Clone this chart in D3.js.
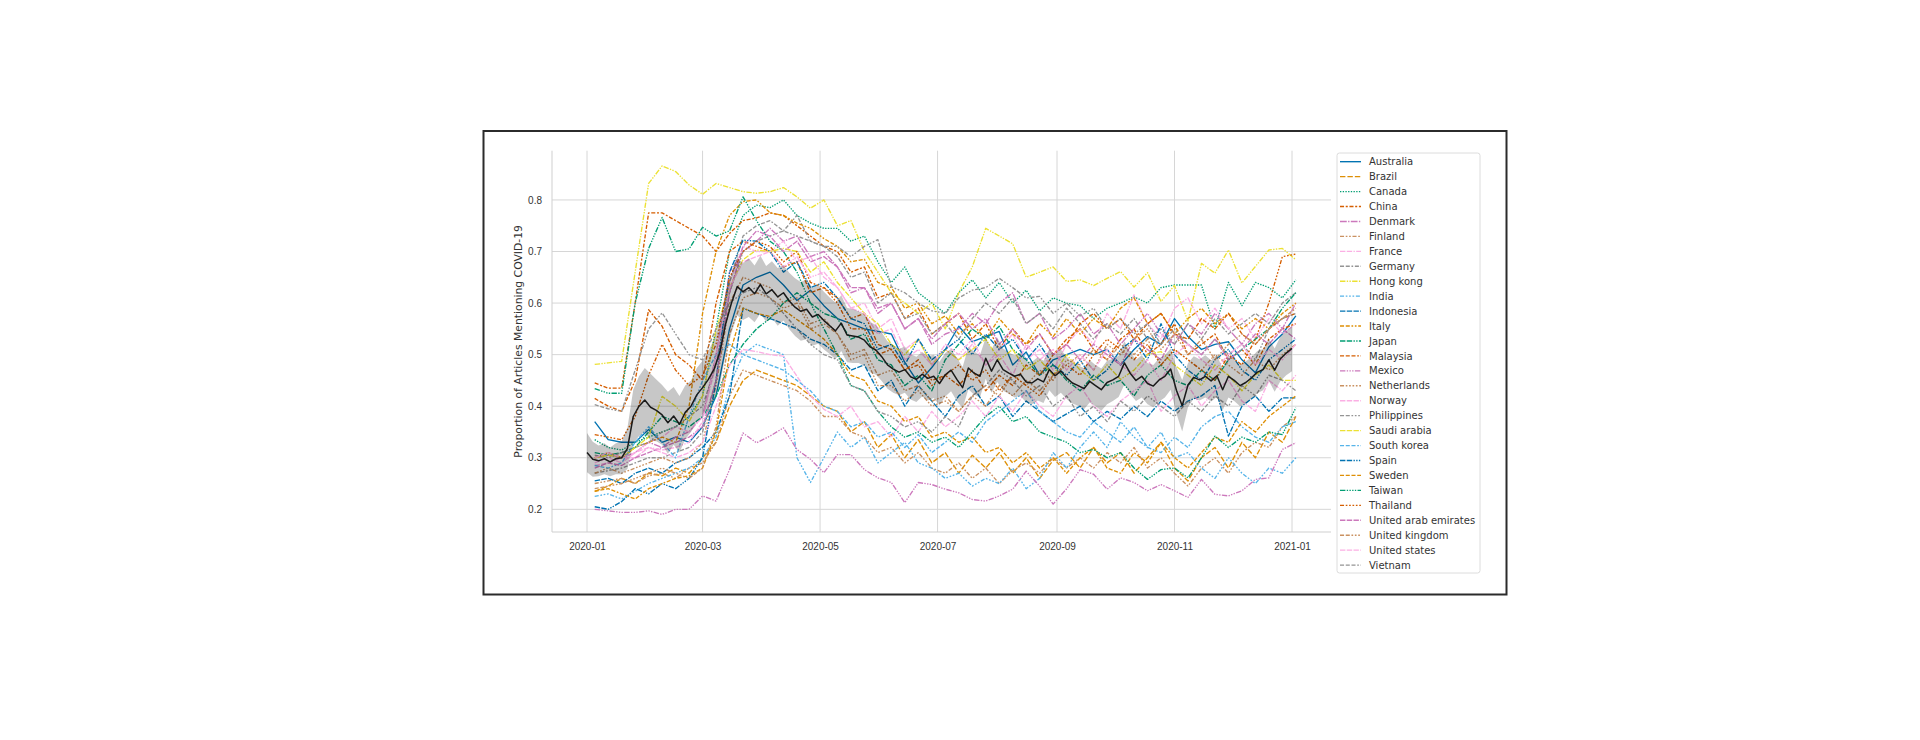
<!DOCTYPE html>
<html>
<head>
<meta charset="utf-8">
<style>
  body { margin: 0; background: #fff; }
  svg { display: block; font-family: 'DejaVu Sans', sans-serif; }
  .tick text { font-size: 10px; fill: #333; }
  .grid line { stroke: #d6d6d6; stroke-width: 1; }
  .legend text { font-size: 10px; fill: #333; }
</style>
</head>
<body>
<svg width="1920" height="740"></svg>
<script src="https://d3js.org/d3.v7.min.js"></script>
<script>
// ---- data ----
const countries = ["Australia", "Brazil", "Canada", "China", "Denmark", "Finland", "France",
  "Germany", "Hong kong", "India", "Indonesia", "Italy", "Japan", "Malaysia", "Mexico",
  "Netherlands", "Norway", "Philippines", "Saudi arabia", "South korea", "Spain", "Sweden",
  "Taiwan", "Thailand", "United arab emirates", "United kingdom", "United states", "Vietnam"];

// weekly values, one per Sunday from 2020-01-05 to 2021-01-03
const australia = [0.370,0.335,0.330,0.330,0.355,0.330,0.340,0.330,0.360,
  0.420,0.550,0.635,0.650,0.660,0.635,0.605,0.625,0.595,
  0.570,0.560,0.550,0.545,0.540,0.485,0.445,0.475,0.510,
  0.555,0.525,0.535,0.545,0.480,0.505,0.460,0.490,0.500,
  0.510,0.500,0.510,0.480,0.510,0.535,0.520,0.570,0.535,
  0.510,0.520,0.525,0.490,0.465,0.515,0.540,0.575];
const brazil = [0.235,0.245,0.260,0.250,0.270,0.265,0.280,0.270,0.300,
  0.330,0.400,0.450,0.470,0.460,0.450,0.440,0.420,0.400,
  0.390,0.350,0.370,0.320,0.345,0.300,0.335,0.290,0.310,
  0.270,0.305,0.280,0.310,0.270,0.300,0.260,0.295,0.310,
  0.280,0.320,0.290,0.310,0.270,0.300,0.330,0.280,0.255,
  0.300,0.320,0.280,0.330,0.300,0.350,0.330,0.380];
const canada = [0.335,0.320,0.315,0.330,0.340,0.350,0.360,0.380,0.420,
  0.550,0.700,0.770,0.790,0.785,0.800,0.770,0.755,0.745,
  0.745,0.720,0.730,0.680,0.640,0.670,0.620,0.600,0.580,
  0.620,0.645,0.610,0.640,0.600,0.625,0.585,0.610,0.600,
  0.595,0.570,0.590,0.600,0.612,0.600,0.630,0.635,0.635,
  0.635,0.550,0.640,0.595,0.640,0.630,0.610,0.645];
const china = [0.445,0.435,0.435,0.600,0.775,0.775,0.760,0.745,0.730,
  0.700,0.735,0.760,0.765,0.775,0.770,0.750,0.730,0.710,
  0.700,0.660,0.670,0.610,0.620,0.570,0.590,0.540,0.560,
  0.580,0.530,0.560,0.510,0.550,0.520,0.540,0.500,0.530,
  0.550,0.510,0.490,0.530,0.550,0.500,0.520,0.560,0.500,
  0.520,0.540,0.490,0.510,0.480,0.530,0.550,0.560];
const denmark = [0.300,0.305,0.300,0.310,0.330,0.320,0.340,0.350,0.380,
  0.500,0.660,0.700,0.720,0.745,0.720,0.730,0.690,0.700,
  0.670,0.620,0.630,0.580,0.600,0.550,0.570,0.520,0.540,
  0.550,0.580,0.560,0.600,0.620,0.560,0.580,0.530,0.550,
  0.580,0.540,0.560,0.520,0.550,0.580,0.540,0.520,0.560,
  0.540,0.580,0.550,0.520,0.560,0.580,0.550,0.600];
const finland = [0.250,0.255,0.260,0.250,0.265,0.270,0.260,0.280,0.290,
  0.330,0.420,0.470,0.460,0.450,0.440,0.430,0.410,0.380,
  0.380,0.350,0.340,0.310,0.320,0.290,0.310,0.280,0.270,
  0.290,0.260,0.280,0.250,0.275,0.290,0.270,0.300,0.280,
  0.300,0.280,0.310,0.290,0.320,0.280,0.300,0.270,0.245,
  0.280,0.300,0.270,0.310,0.330,0.320,0.360,0.380];
const france = [0.290,0.300,0.290,0.310,0.330,0.340,0.360,0.350,0.380,
  0.480,0.640,0.710,0.700,0.700,0.720,0.680,0.690,0.650,
  0.630,0.590,0.600,0.550,0.570,0.510,0.530,0.480,0.510,
  0.490,0.520,0.480,0.510,0.540,0.490,0.510,0.470,0.520,
  0.550,0.520,0.580,0.550,0.616,0.560,0.530,0.590,0.610,
  0.560,0.590,0.550,0.570,0.530,0.570,0.540,0.560];
const germany = [0.270,0.275,0.280,0.290,0.300,0.300,0.310,0.320,0.350,
  0.450,0.640,0.730,0.750,0.760,0.740,0.770,0.720,0.710,
  0.690,0.650,0.660,0.600,0.620,0.570,0.580,0.540,0.560,
  0.530,0.570,0.600,0.580,0.610,0.560,0.580,0.550,0.590,
  0.560,0.530,0.560,0.540,0.570,0.530,0.550,0.520,0.560,
  0.530,0.570,0.540,0.560,0.580,0.560,0.600,0.620];
const hongKong = [0.481,0.484,0.487,0.660,0.832,0.866,0.855,0.829,0.811,
  0.832,0.824,0.816,0.813,0.816,0.824,0.806,0.784,0.800,
  0.750,0.760,0.700,0.660,0.620,0.600,0.580,0.600,0.550,
  0.620,0.670,0.745,0.730,0.715,0.650,0.660,0.670,0.642,
  0.645,0.634,0.648,0.661,0.631,0.659,0.603,0.634,0.565,
  0.677,0.658,0.703,0.639,0.671,0.703,0.706,0.684];
const india = [0.225,0.230,0.220,0.235,0.250,0.260,0.270,0.280,0.300,
  0.340,0.440,0.500,0.520,0.510,0.500,0.300,0.252,0.300,
  0.350,0.320,0.340,0.290,0.310,0.330,0.290,0.280,0.260,
  0.270,0.245,0.260,0.250,0.280,0.240,0.260,0.310,0.280,
  0.320,0.350,0.320,0.370,0.340,0.320,0.350,0.300,0.310,
  0.280,0.260,0.300,0.270,0.250,0.280,0.270,0.300];
const indonesia = [0.255,0.260,0.250,0.270,0.280,0.270,0.290,0.300,0.320,
  0.350,0.420,0.590,0.580,0.570,0.560,0.550,0.530,0.520,
  0.500,0.470,0.480,0.430,0.450,0.400,0.440,0.410,0.380,
  0.420,0.440,0.400,0.420,0.380,0.410,0.390,0.370,0.385,
  0.400,0.370,0.390,0.375,0.400,0.380,0.410,0.390,0.410,
  0.420,0.440,0.342,0.400,0.420,0.390,0.416,0.416];
const italy = [0.300,0.310,0.300,0.320,0.330,0.340,0.330,0.400,0.580,
  0.700,0.770,0.797,0.800,0.775,0.770,0.755,0.745,0.725,
  0.710,0.680,0.685,0.640,0.630,0.590,0.600,0.560,0.575,
  0.540,0.560,0.530,0.570,0.540,0.520,0.560,0.535,0.570,
  0.540,0.570,0.550,0.590,0.610,0.560,0.580,0.540,0.570,
  0.590,0.560,0.580,0.550,0.570,0.550,0.580,0.600];
const japan = [0.310,0.305,0.310,0.320,0.350,0.380,0.370,0.360,0.380,
  0.420,0.480,0.520,0.550,0.570,0.600,0.620,0.600,0.580,
  0.570,0.530,0.540,0.490,0.480,0.440,0.460,0.430,0.490,
  0.520,0.550,0.530,0.555,0.510,0.490,0.460,0.480,0.450,
  0.430,0.460,0.440,0.450,0.420,0.460,0.480,0.450,0.440,
  0.470,0.450,0.490,0.510,0.530,0.550,0.590,0.620];
const malaysia = [0.415,0.400,0.390,0.450,0.587,0.555,0.500,0.480,0.450,
  0.600,0.700,0.720,0.710,0.700,0.670,0.680,0.620,0.630,
  0.610,0.570,0.580,0.520,0.510,0.470,0.490,0.450,0.460,
  0.440,0.470,0.430,0.460,0.440,0.480,0.460,0.500,0.520,
  0.560,0.580,0.550,0.570,0.530,0.560,0.580,0.540,0.530,
  0.570,0.550,0.580,0.540,0.520,0.550,0.570,0.580];
const mexico = [0.200,0.197,0.194,0.194,0.197,0.190,0.200,0.200,0.226,
  0.216,0.277,0.348,0.329,0.342,0.358,0.316,0.297,0.271,
  0.306,0.306,0.277,0.261,0.252,0.213,0.252,0.248,0.239,
  0.232,0.219,0.216,0.226,0.239,0.274,0.245,0.210,0.240,
  0.277,0.268,0.239,0.261,0.252,0.236,0.248,0.236,0.223,
  0.258,0.229,0.226,0.236,0.258,0.261,0.316,0.329];
const netherlands = [0.270,0.280,0.270,0.280,0.290,0.300,0.290,0.300,0.330,
  0.440,0.600,0.650,0.640,0.630,0.600,0.610,0.560,0.570,
  0.540,0.490,0.500,0.440,0.440,0.410,0.430,0.400,0.410,
  0.390,0.420,0.440,0.420,0.460,0.440,0.470,0.450,0.490,
  0.480,0.510,0.490,0.520,0.500,0.530,0.480,0.510,0.490,
  0.470,0.500,0.480,0.460,0.490,0.470,0.500,0.520];
const norway = [0.285,0.290,0.300,0.300,0.320,0.310,0.300,0.310,0.330,
  0.400,0.480,0.510,0.506,0.500,0.497,0.458,0.420,0.394,
  0.380,0.400,0.360,0.370,0.340,0.380,0.350,0.390,0.360,
  0.380,0.410,0.380,0.420,0.390,0.430,0.400,0.380,0.420,
  0.440,0.400,0.380,0.410,0.430,0.450,0.390,0.420,0.440,
  0.400,0.430,0.450,0.410,0.390,0.450,0.430,0.460];
const philippines = [0.305,0.300,0.310,0.320,0.330,0.350,0.360,0.380,0.400,
  0.480,0.620,0.700,0.720,0.730,0.740,0.730,0.720,0.710,
  0.710,0.690,0.710,0.723,0.632,0.620,0.600,0.585,0.580,
  0.610,0.625,0.630,0.648,0.630,0.610,0.613,0.580,0.600,
  0.575,0.590,0.550,0.570,0.540,0.560,0.520,0.550,0.520,
  0.500,0.530,0.500,0.520,0.490,0.550,0.570,0.580];
const saudiArabia = [0.300,0.305,0.300,0.320,0.340,0.419,0.400,0.370,0.420,
  0.548,0.630,0.684,0.703,0.700,0.706,0.700,0.660,0.680,
  0.640,0.610,0.580,0.560,0.520,0.500,0.530,0.480,0.510,
  0.490,0.510,0.530,0.490,0.510,0.470,0.490,0.460,0.500,
  0.470,0.450,0.480,0.452,0.470,0.500,0.506,0.480,0.460,
  0.440,0.480,0.460,0.430,0.460,0.480,0.450,0.450];
const southKorea = [0.285,0.280,0.290,0.330,0.360,0.330,0.300,0.380,0.450,
  0.500,0.520,0.500,0.490,0.480,0.470,0.450,0.430,0.400,
  0.390,0.360,0.370,0.340,0.350,0.320,0.345,0.310,0.330,
  0.350,0.330,0.370,0.390,0.410,0.430,0.390,0.370,0.350,
  0.340,0.370,0.350,0.330,0.360,0.320,0.310,0.340,0.320,
  0.360,0.380,0.390,0.360,0.340,0.330,0.360,0.370];
const spain = [0.205,0.200,0.215,0.240,0.230,0.250,0.240,0.260,0.300,
  0.450,0.660,0.722,0.720,0.700,0.660,0.680,0.630,0.640,
  0.610,0.570,0.560,0.510,0.520,0.480,0.530,0.490,0.510,
  0.530,0.500,0.540,0.510,0.530,0.490,0.520,0.480,0.460,
  0.490,0.450,0.470,0.510,0.530,0.490,0.560,0.500,0.470,
  0.450,0.490,0.510,0.470,0.450,0.490,0.510,0.530];
const sweden = [0.235,0.240,0.230,0.220,0.240,0.250,0.260,0.265,0.280,
  0.350,0.500,0.590,0.580,0.574,0.587,0.568,0.550,0.530,
  0.500,0.460,0.450,0.410,0.400,0.370,0.380,0.340,0.350,
  0.330,0.340,0.310,0.320,0.290,0.310,0.280,0.300,0.270,
  0.300,0.320,0.280,0.270,0.310,0.290,0.330,0.300,0.280,
  0.310,0.340,0.330,0.370,0.350,0.380,0.400,0.420];
const taiwan = [0.434,0.425,0.425,0.600,0.706,0.766,0.700,0.705,0.747,
  0.730,0.740,0.806,0.760,0.720,0.700,0.660,0.600,0.550,
  0.500,0.440,0.430,0.390,0.360,0.340,0.350,0.330,0.340,
  0.320,0.350,0.380,0.400,0.370,0.380,0.350,0.340,0.330,
  0.310,0.316,0.300,0.310,0.280,0.258,0.277,0.280,0.261,
  0.300,0.342,0.320,0.340,0.330,0.350,0.345,0.397];
const thailand = [0.345,0.340,0.335,0.380,0.460,0.520,0.470,0.440,0.460,
  0.520,0.650,0.700,0.720,0.710,0.680,0.700,0.640,0.630,
  0.600,0.550,0.550,0.500,0.510,0.470,0.480,0.440,0.460,
  0.480,0.450,0.470,0.430,0.460,0.440,0.420,0.460,0.480,
  0.460,0.500,0.530,0.510,0.490,0.520,0.480,0.510,0.490,
  0.470,0.450,0.500,0.480,0.530,0.600,0.690,0.695];
const uae = [0.280,0.290,0.285,0.300,0.310,0.320,0.330,0.340,0.360,
  0.450,0.620,0.710,0.740,0.730,0.700,0.720,0.680,0.690,
  0.670,0.630,0.630,0.590,0.600,0.550,0.570,0.530,0.560,
  0.580,0.550,0.570,0.520,0.550,0.510,0.540,0.500,0.520,
  0.490,0.520,0.500,0.480,0.530,0.510,0.490,0.540,0.520,
  0.500,0.530,0.490,0.510,0.540,0.520,0.550,0.530];
const uk = [0.240,0.245,0.250,0.260,0.270,0.280,0.270,0.260,0.280,
  0.360,0.540,0.610,0.620,0.610,0.590,0.600,0.550,0.560,
  0.540,0.500,0.510,0.460,0.470,0.430,0.440,0.410,0.420,
  0.390,0.420,0.400,0.440,0.420,0.450,0.430,0.460,0.480,
  0.500,0.470,0.520,0.500,0.530,0.550,0.510,0.540,0.500,
  0.530,0.490,0.520,0.540,0.520,0.550,0.570,0.590];
const us = [0.300,0.310,0.300,0.310,0.320,0.315,0.320,0.330,0.370,
  0.500,0.630,0.680,0.690,0.700,0.670,0.690,0.650,0.660,
  0.630,0.590,0.580,0.540,0.550,0.490,0.510,0.480,0.520,
  0.500,0.530,0.480,0.500,0.460,0.520,0.490,0.510,0.470,
  0.500,0.470,0.510,0.480,0.460,0.490,0.450,0.500,0.520,
  0.490,0.470,0.500,0.520,0.480,0.510,0.490,0.520];
const vietnam = [0.403,0.395,0.390,0.470,0.550,0.581,0.540,0.500,0.490,
  0.550,0.600,0.620,0.630,0.610,0.580,0.550,0.520,0.500,
  0.490,0.440,0.430,0.390,0.380,0.360,0.370,0.350,0.380,
  0.360,0.420,0.440,0.470,0.450,0.420,0.440,0.400,0.420,
  0.380,0.400,0.370,0.410,0.390,0.420,0.400,0.380,0.410,
  0.390,0.420,0.400,0.440,0.420,0.460,0.450,0.430];

const countryValues = [australia, brazil, canada, china, denmark, finland, france, germany,
  hongKong, india, indonesia, italy, japan, malaysia, mexico, netherlands, norway, philippines,
  saudiArabia, southKorea, spain, sweden, taiwan, thailand, uae, uk, us, vietnam];

// mean of all countries, every 3 days from 2020-01-01, and half width of its 95% band
const meanValues = [0.310,0.297,0.294,0.298,0.292,0.298,0.300,0.318,0.380,0.400,
  0.412,0.398,0.392,0.383,0.368,0.381,0.365,0.388,0.400,0.422,
  0.436,0.452,0.472,0.505,0.560,0.600,0.632,0.622,0.630,0.618,
  0.636,0.618,0.626,0.612,0.620,0.604,0.592,0.584,0.588,0.573,
  0.578,0.566,0.556,0.546,0.561,0.538,0.536,0.534,0.528,0.515,
  0.509,0.496,0.480,0.472,0.466,0.471,0.457,0.452,0.462,0.454,
  0.458,0.444,0.461,0.470,0.452,0.436,0.474,0.464,0.458,0.493,
  0.468,0.490,0.471,0.464,0.458,0.462,0.447,0.445,0.453,0.447,
  0.471,0.459,0.468,0.455,0.445,0.440,0.434,0.448,0.440,0.432,
  0.446,0.451,0.458,0.484,0.464,0.450,0.458,0.444,0.439,0.451,
  0.458,0.472,0.431,0.401,0.441,0.456,0.451,0.458,0.449,0.459,
  0.432,0.458,0.450,0.440,0.446,0.455,0.466,0.471,0.490,0.470,
  0.492,0.503,0.512];
const meanBand = [0.038,0.034,0.030,0.030,0.028,0.030,0.032,
  0.040,0.052,0.058,0.062,0.065,0.060,0.058,0.060,0.056,0.055,0.052,0.050,0.052,
  0.052,0.055,0.058,0.062,0.060,0.058,
  0.056,0.055,0.057,0.055,0.056,0.054,0.055,0.056,0.054,0.055,0.056,0.057,0.058,0.056,0.057,0.056,0.055,
  0.055,0.054,0.053,0.052,0.050,0.050,0.049,0.048,0.047,0.046,0.046,0.045,0.045,0.044,0.044,0.043,0.043,0.042,0.042,
  0.042,0.041,0.042,0.040,0.041,0.042,0.041,0.040,0.042,0.043,0.041,0.040,0.041,0.042,0.040,0.041,0.042,0.041,
  0.040,0.041,0.042,0.041,0.040,0.039,0.040,0.041,0.040,0.041,0.042,0.041,0.040,0.042,0.041,0.040,0.041,0.040,0.041,0.042,0.041,0.040,
  0.045,0.050,0.043,0.041,0.040,0.041,0.040,0.041,0.040,0.041,0.040,0.040,0.041,0.040,0.041,0.040,0.041,0.042,0.043,0.043,0.044];

const yTicks = [0.2, 0.3, 0.4, 0.5, 0.6, 0.7, 0.8];
const xTickLabels = ["2020-01", "2020-03", "2020-05", "2020-07", "2020-09", "2020-11", "2021-01"];

// ---- styles ----
const palette = ["#0173b2", "#de8f05", "#029e73", "#d55e00", "#cc78bc",
  "#ca9161", "#fbafe4", "#949494", "#ece133", "#56b4e9"];
const dashes = [
  [], [4, 1.5], [1, 1], [3, 1.25, 1.5, 1.25], [5, 1, 1, 1],
  [3, 1.25, 1.25, 1.25, 1.25, 1.25], [4, 1, 4, 1, 1, 1], [3, 1.25, 3, 1.25, 1.25, 1.25], [4, 1, 1, 1, 1, 1],
  [3, 1.25, 1.25, 1.25, 1.25, 1.25, 1.25, 1.25], [4, 1, 4, 1, 4, 1, 1, 1],
  [3, 1.25, 3, 1.25, 1.25, 1.25, 1.25, 1.25], [4, 1, 4, 1, 1, 1, 1, 1],
  [3, 1.25, 3, 1.25, 3, 1.25, 1.25, 1.25], [4, 1, 1, 1, 1, 1, 1, 1],
  [3, 1.25, 1.25, 1.25, 1.25, 1.25, 1.25, 1.25, 1.25, 1.25], [4, 1, 4, 1, 4, 1, 4, 1, 1, 1],
  [3, 1.25, 3, 1.25, 1.25, 1.25, 1.25, 1.25, 1.25, 1.25], [4, 1, 4, 1, 4, 1, 1, 1, 1, 1],
  [3, 1.25, 3, 1.25, 3, 1.25, 1.25, 1.25, 1.25, 1.25], [4, 1, 4, 1, 1, 1, 1, 1, 1, 1],
  [3, 1.25, 3, 1.25, 3, 1.25, 3, 1.25, 1.25, 1.25], [4, 1, 1, 1, 1, 1, 1, 1, 1, 1],
  [3, 1.25, 1.25, 1.25, 1.25, 1.25, 1.25, 1.25, 1.25, 1.25, 1.25, 1.25],
  [4, 1, 4, 1, 4, 1, 4, 1, 4, 1, 1, 1],
  [3, 1.25, 3, 1.25, 1.25, 1.25, 1.25, 1.25, 1.25, 1.25, 1.25, 1.25],
  [4, 1, 4, 1, 4, 1, 4, 1, 1, 1, 1, 1],
  [3, 1.25, 3, 1.25, 3, 1.25, 1.25, 1.25, 1.25, 1.25, 1.25, 1.25]];
const lineWidth = 1.35;
const dashArray = i => dashes[i].length ? dashes[i].map(v => v * lineWidth).join(",") : null;

// ---- layout ----
const svg = d3.select("svg");
const plot = { left: 552, right: 1331, top: 150.7, bottom: 532 };

let x = d3.scaleUtc()
  .domain([new Date(Date.UTC(2020, 0, 1)), new Date(Date.UTC(2021, 0, 1))])
  .range([587, 1292]);
let y = d3.scaleLinear()
  .domain([0.156, 0.8955])
  .range([plot.bottom, plot.top]);

const weekDates = d3.utcSunday.range(new Date(Date.UTC(2020, 0, 5)), new Date(Date.UTC(2021, 0, 4)));
const meanDates = meanValues.map((v, i) => d3.utcDay.offset(new Date(Date.UTC(2020, 0, 1)), 3 * i));
const tickDates = xTickLabels.map(s => d3.utcParse("%Y-%m")(s));

// outer frame
svg.append("rect")
  .attr("x", 483.5).attr("y", 131).attr("width", 1023).attr("height", 463.5)
  .attr("fill", "none").attr("stroke", "#2b2b2b").attr("stroke-width", 2);

// grid
let grid = svg.append("g").attr("class", "grid");
grid.selectAll(".vx").data(tickDates).join("line")
  .attr("x1", d => x(d)).attr("x2", d => x(d))
  .attr("y1", plot.top).attr("y2", plot.bottom);
grid.selectAll(".hy").data(yTicks).join("line")
  .attr("x1", plot.left).attr("x2", plot.right)
  .attr("y1", d => y(d)).attr("y2", d => y(d));

// spines (left and bottom only)
svg.append("line").attr("x1", plot.left).attr("x2", plot.left)
  .attr("y1", plot.top).attr("y2", plot.bottom).attr("stroke", "#cfcfcf");
svg.append("line").attr("x1", plot.left).attr("x2", plot.right)
  .attr("y1", plot.bottom).attr("y2", plot.bottom).attr("stroke", "#cfcfcf");

// axes
let xAxis = d3.axisBottom(x).tickValues(tickDates)
  .tickFormat(d3.utcFormat("%Y-%m")).tickSize(0).tickPadding(10.5);
svg.append("g").attr("class", "x axis")
  .attr("transform", `translate(0,${plot.bottom})`)
  .call(xAxis)
  .call(g => g.select(".domain").remove());

let yAxis = d3.axisLeft(y).tickValues(yTicks)
  .tickFormat(d3.format(".1f")).tickSize(0).tickPadding(10);
svg.append("g").attr("class", "y axis")
  .attr("transform", `translate(${plot.left},0)`)
  .call(yAxis)
  .call(g => g.select(".domain").remove());

svg.append("text")
  .attr("transform", `translate(518,${(plot.top + plot.bottom) / 2}) rotate(-90)`)
  .attr("text-anchor", "middle").attr("dy", "0.35em")
  .attr("font-size", 10.8).attr("fill", "#333")
  .text("Proportion of Articles Mentioning COVID-19");

// country lines
let line = d3.line()
  .x((d, i) => x(weekDates[i]))
  .y(d => y(d));

svg.append("g")
  .selectAll("path")
  .data(countryValues)
  .join("path")
  .attr("d", d => line(d))
  .attr("fill", "none")
  .attr("stroke", (d, i) => palette[i % 10])
  .attr("stroke-width", lineWidth)
  .attr("stroke-dasharray", (d, i) => dashArray(i))
  .attr("stroke-linejoin", "round");

// mean line with band
let area = d3.area()
  .x((d, i) => x(meanDates[i]))
  .y0((d, i) => y(d - meanBand[i]))
  .y1((d, i) => y(d + meanBand[i]));
svg.append("path")
  .attr("d", area(meanValues))
  .attr("fill", "#000").attr("fill-opacity", 0.22);

let meanLine = d3.line()
  .x((d, i) => x(meanDates[i]))
  .y(d => y(d));
svg.append("path")
  .attr("d", meanLine(meanValues))
  .attr("fill", "none").attr("stroke", "#1a1a1a").attr("stroke-width", 1.5)
  .attr("stroke-linejoin", "round");

// legend
const legendTop = 161.7, legendStep = 14.94;
let legend = svg.append("g").attr("class", "legend");
legend.append("rect")
  .attr("x", 1337).attr("y", 153).attr("width", 143).attr("height", 420)
  .attr("rx", 2.5)
  .attr("fill", "#fff").attr("fill-opacity", 0.8)
  .attr("stroke", "#dcdcdc").attr("stroke-width", 1);
let items = legend.selectAll(".item").data(countries).join("g")
  .attr("transform", (d, i) => `translate(0,${legendTop + i * legendStep})`);
items.append("line")
  .attr("x1", 1340).attr("x2", 1361)
  .attr("stroke", (d, i) => palette[i % 10])
  .attr("stroke-width", lineWidth)
  .attr("stroke-dasharray", (d, i) => dashArray(i));
items.append("text")
  .attr("x", 1369).attr("dy", "0.36em")
  .text(d => d);
</script>
</body>
</html>
